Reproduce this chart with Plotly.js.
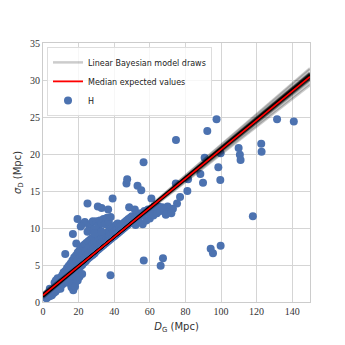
<!DOCTYPE html>
<html>
<head>
<meta charset="utf-8">
<script src="https://cdn.plot.ly/plotly-3.0.1.min.js"></script>
<style>
  body { margin: 0; background: #fff; }
  #chart { width: 345px; height: 345px; }
</style>
</head>
<body>
<div id="chart"></div>
<script>
// H sample: galaxy distance vs distance uncertainty
const hX = [
  1.5, 2, 2.5, 3, 3, 3.5, 4, 4, 4.5, 5, 5, 5.5, 2, 3.8,
  6, 6, 6.5, 7, 7, 7.5, 8, 8, 8.5, 9, 9, 9.5, 10, 10, 6.5, 8.2, 7.2, 9.8,
  10.5, 10.8, 11, 11.5, 11.5, 12, 12, 12.5, 12.5, 13, 13, 13.5, 13.5, 14, 14, 14.5, 14.5,
  15, 15, 15.5, 15.5, 16, 16, 16, 16.5, 16.5, 17, 17, 17, 17.5, 17.5, 18, 18, 18, 18.5, 18.5,
  19, 19, 19, 19.5, 19.5, 20, 20, 20.5, 20.5, 21, 21, 21.5, 21.5, 22, 22, 22.5, 22.5,
  23, 23, 23.5, 23.5, 24, 24, 24.5, 24.5, 25, 25, 25.5, 25.5, 26, 26, 26.5, 26.5,
  27, 27, 27.5, 27.5, 28, 28, 28.5, 28.5, 29, 29, 29.5, 29.5, 30, 30, 30.5, 30.5,
  31, 31, 31.5, 32, 32, 32.5, 32.5, 33, 33, 33.5, 34, 34, 34.5, 35, 35, 35.5,
  36, 36, 36.5, 37, 37, 37.5, 38, 38, 38.5, 39, 39, 39.5, 40, 40, 40.5, 41, 41, 41.5,
  42, 42, 43, 43, 44, 44, 45, 45, 46, 46, 47, 47, 48, 48, 49, 49, 50, 50,
  51, 52, 53, 54, 55, 56, 57, 58, 59, 60, 61, 62, 63, 64, 65, 66, 67, 68, 69, 70,
  56, 58, 60, 62, 64, 66, 68, 71, 69, 52, 54,
  22, 23.5, 25, 26, 27, 28, 29, 30, 31, 32, 33, 34, 35, 36, 37, 38,
  14, 16.5, 18, 19.5, 20.5, 22,
  12.5, 16.8, 18.7, 19.4, 21.2, 25, 30.8, 32.9, 36.6, 39.1, 46.9, 47.3, 48.4, 51.6,
  53.1, 55.2, 56.5, 60.9, 62.4, 37.9, 56.6, 67.4, 66.1, 74.7, 74.6, 77, 75.3, 73, 72.1,
  81.1, 81.5, 88.4, 89.9, 90.8, 92.3, 97.5, 98.5, 99.6, 99.8, 94.2, 95.5, 99.8,
  109.9, 110.6, 111, 117.9, 122.6, 122.8, 131.5, 140.9, 29, 32.7
];
const hY = [
  0.6, 0.5, 0.9, 0.7, 1.2, 1.0, 0.8, 1.4, 1.1, 1.6, 0.9, 1.3, 1.0, 1.8,
  1.2, 1.8, 1.5, 2.0, 1.4, 2.4, 1.7, 2.2, 2.8, 2.0, 2.5, 3.0, 2.3, 3.3, 2.6, 3.2, 2.9, 1.8,
  2.8, 3.6, 2.4, 3.0, 4.0, 3.5, 2.7, 3.2, 4.2, 3.8, 2.9, 3.4, 4.6, 4.0, 3.1, 3.6, 4.9,
  4.2, 3.3, 3.8, 5.2, 4.5, 3.6, 2.0, 4.0, 5.6, 4.8, 3.8, 1.6, 4.2, 6.0, 5.2, 4.0, 2.6, 4.6, 6.3,
  5.5, 4.3, 3.2, 4.9, 6.7, 5.8, 4.5, 5.2, 7.0, 6.0, 4.8, 5.5, 7.3, 6.3, 5.0, 5.7, 7.6,
  6.6, 5.3, 6.0, 7.8, 6.9, 5.5, 6.2, 8.0, 7.1, 5.8, 6.5, 8.2, 7.3, 6.0, 6.7, 8.4,
  7.5, 6.2, 7.0, 8.6, 7.8, 6.4, 7.2, 8.8, 8.0, 6.6, 7.4, 9.0, 8.2, 6.9, 7.6, 9.3,
  8.4, 7.1, 7.8, 8.6, 7.3, 8.0, 9.6, 8.8, 7.5, 8.2, 9.0, 7.7, 8.4, 9.2, 7.9, 8.6,
  9.4, 8.1, 8.8, 9.6, 8.3, 9.0, 9.8, 8.5, 9.2, 10.0, 8.7, 9.4, 10.2, 8.9, 9.6, 10.4, 9.1, 9.8,
  10.6, 9.3, 10.0, 9.5, 10.3, 9.7, 10.6, 9.9, 10.8, 10.1, 11.0, 10.3, 11.2, 10.5, 11.4, 10.7, 11.6, 10.9,
  11.0, 11.3, 11.6, 11.5, 12.0, 11.8, 12.3, 12.1, 12.5, 12.2, 12.6, 12.4, 12.8, 12.5, 12.9, 12.6, 12.8, 12.4, 12.7, 12.9,
  10.5, 11.0, 11.3, 11.7, 12.0, 12.3, 12.6, 12.2, 11.8, 10.4, 10.8,
  10.5, 10.8, 9.5, 10.2, 10.6, 10.9, 9.8, 10.9, 10.3, 11.0, 10.6, 11.2, 10.5, 11.4, 10.8, 11.5,
  2.6, 2.4, 2.1, 2.9, 3.4, 3.8,
  6.5, 9.2, 7.9, 11.2, 10.2, 13.3, 12.9, 12.7, 12.5, 14.0, 16.0, 16.6, 12.8, 12.5,
  15.7, 15.1, 18.9, 14.0, 12.9, 3.6, 5.6, 5.9, 4.9, 21.9, 16.0, 14.2, 13.3, 12.6, 12.0,
  15.0, 16.6, 17.3, 16.1, 19.5, 23.1, 24.7, 18.2, 16.5, 20.1, 7.2, 6.6, 7.6,
  20.8, 19.9, 19.2, 11.6, 21.4, 20.3, 24.7, 24.4, 9.3, 9.5
];

// posterior draws of the linear model (slope, intercept)
const drawSlopes = [
  0.1870, 0.1932, 0.1948, 0.1955, 0.1961, 0.1966, 0.1970, 0.1973, 0.1976, 0.1979,
  0.1982, 0.1985, 0.1988, 0.1992, 0.1996, 0.2001, 0.2008, 0.2016, 0.2070, 0.1940,
  0.1958, 0.1968, 0.1975, 0.1980, 0.1987, 0.1995, 0.2004, 0.2020, 0.1890, 0.1952,
  0.1963, 0.1971, 0.1977, 0.1983, 0.1990, 0.1999, 0.2011, 0.1925, 0.1944, 0.2055
];
const drawIntercepts = [
  1.25, 1.02, 0.98, 0.95, 0.93, 0.91, 0.90, 0.89, 0.88, 0.87,
  0.86, 0.85, 0.84, 0.83, 0.81, 0.79, 0.76, 0.73, 0.55, 1.00,
  0.94, 0.92, 0.89, 0.87, 0.85, 0.82, 0.78, 0.71, 1.20, 0.97,
  0.93, 0.90, 0.88, 0.86, 0.84, 0.80, 0.75, 1.06, 0.99, 0.60
];
const medianSlope = 0.197;
const medianIntercept = 0.9;
const xRange = [0, 150];

const traces = [];

traces.push({
  x: hX, y: hY,
  type: 'scatter', mode: 'markers',
  name: 'H',
  marker: { color: '#4c72b0', size: 8 },
  legendrank: 3
});

drawSlopes.forEach((m, i) => {
  const b = drawIntercepts[i];
  traces.push({
    x: xRange, y: xRange.map(x => b + m * x),
    type: 'scatter', mode: 'lines',
    name: 'Linear Bayesian model draws',
    line: { color: 'rgba(0,0,0,0.2)', width: 2.5 },
    showlegend: i === 0,
    legendgroup: 'draws',
    legendrank: 1,
    hoverinfo: 'skip'
  });
});

traces.push({
  x: xRange, y: xRange.map(x => medianIntercept + medianSlope * x),
  type: 'scatter', mode: 'lines',
  name: 'Median expected values',
  line: { color: '#ff0000', width: 1.8 },
  legendrank: 2
});

const tickFont = { family: 'Liberation Serif, DejaVu Serif, serif', size: 10, color: '#333' };

const layout = {
  width: 345, height: 345,
  margin: { l: 43, r: 35, t: 43, b: 43 },
  paper_bgcolor: '#fff',
  plot_bgcolor: '#fff',
  showlegend: true,
  legend: {
    x: 0.015, y: 0.985, xanchor: 'left', yanchor: 'top',
    bgcolor: 'rgba(255,255,255,0.8)',
    bordercolor: '#dddddd', borderwidth: 1,
    font: { family: 'DejaVu Sans, sans-serif', size: 8, color: '#222' },
    tracegroupgap: 0
  },
  xaxis: {
    range: [0, 150],
    tickvals: [0, 20, 40, 60, 80, 100, 120, 140],
    tickfont: tickFont,
    showgrid: true, gridcolor: '#d5d5d5', gridwidth: 1,
    zeroline: false,
    showline: true, linecolor: '#cccccc', linewidth: 1, mirror: true,
    ticks: '',
    title: { text: '<i>D</i><sub>G</sub> (Mpc)', font: { family: 'DejaVu Sans, sans-serif', size: 10, color: '#333' }, standoff: 6 }
  },
  yaxis: {
    range: [0, 35],
    tickvals: [0, 5, 10, 15, 20, 25, 30, 35],
    tickfont: tickFont,
    showgrid: true, gridcolor: '#d5d5d5', gridwidth: 1,
    zeroline: false,
    showline: true, linecolor: '#cccccc', linewidth: 1, mirror: true,
    ticks: '',
    title: { text: '<i>σ</i><sub>D</sub> (Mpc)', font: { family: 'DejaVu Sans, sans-serif', size: 10, color: '#333' }, standoff: 6 }
  }
};

Plotly.newPlot('chart', traces, layout, { displayModeBar: false, staticPlot: true });
</script>
</body>
</html>
